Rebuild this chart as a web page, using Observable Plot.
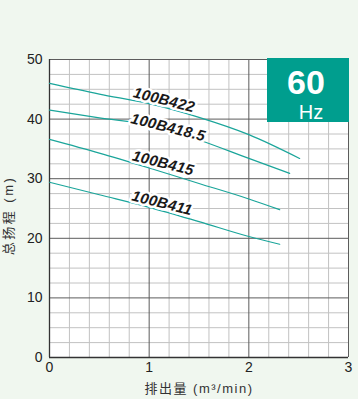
<!DOCTYPE html>
<html><head><meta charset="utf-8">
<script src="https://cdn.jsdelivr.net/npm/d3@7"></script>
<script src="https://cdn.jsdelivr.net/npm/@observablehq/plot@0.6"></script>
<style>
html,body{margin:0;padding:0;background:#f0f7ef;}
#wrap{position:relative;width:358px;height:399px;overflow:hidden;}
#badge{position:absolute;left:267px;top:58px;width:82px;height:64px;background:#009e8e;color:#fff;font-family:"Liberation Sans",Arial,sans-serif;}
#badge .f{position:absolute;left:0;width:78px;text-align:center;font-weight:bold;font-size:34px;line-height:30px;top:9px;}
#badge .u{position:absolute;left:0;width:88px;text-align:center;font-size:20px;line-height:20px;top:44px;}
</style>
</head><body>
<div id="wrap"></div>
<script>
// Axis ticks
const flowTicks = [0, 1, 2, 3];
const headTicks = [0, 10, 20, 30, 40, 50];
const minorFlowTicks = [0.2, 0.4, 0.6, 0.8, 1.2, 1.4, 1.6, 1.8, 2.2, 2.4, 2.6, 2.8];
const minorHeadTicks = [2.5, 5, 7.5, 12.5, 15, 17.5, 22.5, 25, 27.5, 32.5, 35, 37.5, 42.5, 45, 47.5];
const majorFlowTicks = [1, 2, 3];
const majorHeadTicks = [10, 20, 30, 40, 50];

// Pump curves (flow m3/min, head m)
const flow422 = [0, 0.5, 1.0, 1.5, 2.0, 2.51];
const head422 = [46.0, 44.2, 42.6, 40.3, 37.4, 33.4];
const flow418 = [0, 0.5, 1.0, 1.5, 2.0, 2.41];
const head418 = [41.5, 40.2, 39.0, 36.5, 33.4, 30.9];
const flow415 = [0, 0.5, 1.0, 1.5, 2.0, 2.31];
const head415 = [36.6, 34.3, 31.8, 29.2, 26.6, 24.8];
const flow411 = [0, 0.5, 1.0, 1.5, 2.0, 2.31];
const head411 = [29.4, 27.3, 25.2, 22.8, 20.3, 19.0];

// Curve labels
const labelNames = ["100B422", "100B418.5", "100B415", "100B411"];
const labelFlow = [1.15, 1.19, 1.14, 1.13];
const labelHead = [43.2, 38.6, 32.6, 25.9];

const xTitle = "排出量 (m³/min)";
const yTitle = "总扬程 (m)";
const freq = "60";
const freqUnit = "Hz";

const teal = "#1aa59a";
const toPts = (xs, ys) => xs.map((x, i) => ({x, y: ys[i]}));
const curves = [[flow422, head422], [flow418, head418], [flow415, head415], [flow411, head411]];
const labels = labelNames.map((t, i) => ({t, x: labelFlow[i], y: labelHead[i]}));

const chart = Plot.plot({
  width: 358, height: 399,
  marginLeft: 49, marginRight: 10, marginTop: 59, marginBottom: 42,
  style: {background: "transparent", fontFamily: "'Liberation Sans', Arial, 'Noto Sans CJK SC', sans-serif", fontSize: "14px", color: "#222"},
  x: {domain: [0, 3]},
  y: {domain: [0, 50]},
  marks: [
    Plot.frame({fill: "white", stroke: null}),
    Plot.ruleX(minorFlowTicks, {stroke: "#c2c2c2", strokeWidth: 1}),
    Plot.ruleY(minorHeadTicks, {stroke: "#c2c2c2", strokeWidth: 1}),
    Plot.ruleX(majorFlowTicks, {stroke: "#5c5c5c", strokeWidth: 1}),
    Plot.ruleY(majorHeadTicks, {stroke: "#5c5c5c", strokeWidth: 1}),
    Plot.ruleX([0], {stroke: "#333", strokeWidth: 1.3}),
    Plot.ruleY([0], {stroke: "#333", strokeWidth: 1.3}),
    Plot.axisX(flowTicks, {tickSize: 0, tickPadding: 5, label: null, fontSize: 14, fill: "#222"}),
    Plot.axisY(headTicks, {tickSize: 0, tickPadding: 7, label: null, fontSize: 14, fill: "#222"}),
    ...curves.map(([xs, ys]) => Plot.line(toPts(xs, ys), {x: "x", y: "y", curve: "monotone-x", stroke: teal, strokeWidth: 1.2})),
    Plot.text(labels, {x: "x", y: "y", text: "t", rotate: 14, fontSize: 15, fontWeight: "bold", fontStyle: "italic", fill: "#1a1a1a", stroke: "white", strokeWidth: 5}),
    Plot.text([xTitle], {frameAnchor: "bottom", textAnchor: "middle", lineAnchor: "middle", dy: 31, fontSize: 13, fill: "#333"}),
    Plot.text([yTitle], {frameAnchor: "left", textAnchor: "middle", lineAnchor: "middle", dx: -41, dy: 7, rotate: -90, fontSize: 13, fill: "#333"})
  ]
});
d3.select(chart).selectAll("text").filter(function() { return labelNames.includes(this.textContent); }).style("letter-spacing", "0.3px");
d3.select(chart).selectAll("text").filter(function() { return this.textContent === xTitle; }).style("letter-spacing", "1.5px");
d3.select(chart).selectAll("text").filter(function() { return this.textContent === yTitle; }).style("letter-spacing", "2.5px");
const wrap = document.getElementById("wrap");
wrap.appendChild(chart);
const badge = document.createElement("div");
badge.id = "badge";
badge.innerHTML = `<div class="f">${freq}</div><div class="u">${freqUnit}</div>`;
wrap.appendChild(badge);
</script>
</body></html>
